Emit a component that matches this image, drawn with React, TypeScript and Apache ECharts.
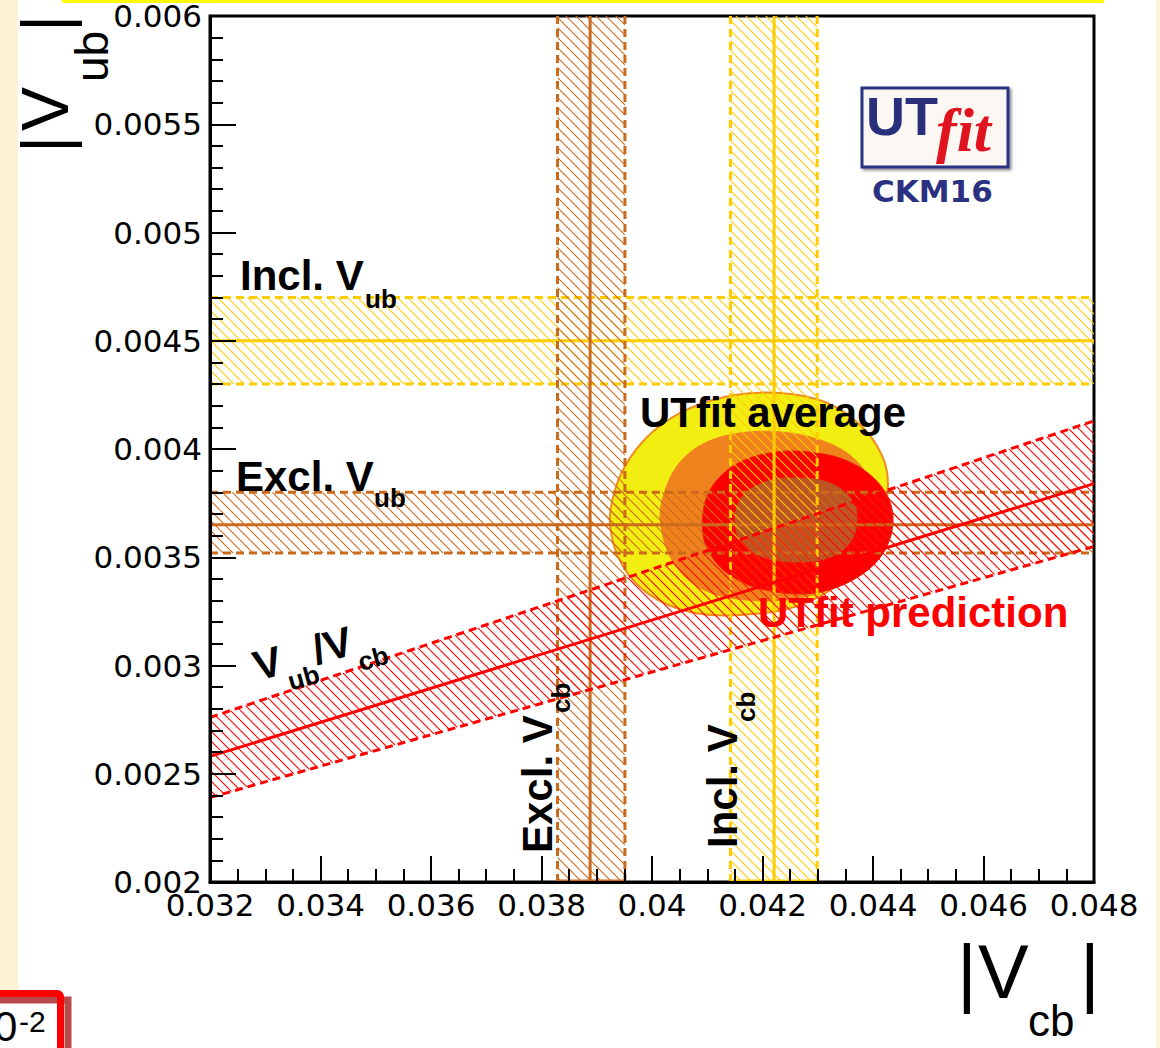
import React, { useEffect, useRef } from 'react';
import * as echarts from 'echarts';

// ---- axes ----
const X_MIN = 0.032, X_MAX = 0.048, X_STEP = 0.002;
const Y_MIN = 0.002, Y_MAX = 0.006, Y_STEP = 0.0005;

// ---- horizontal bands: |Vub| (Incl., Excl.) ----
const hBandCenter = [0.0045, 0.00365];
const hBandLow = [0.0043, 0.00352];
const hBandHigh = [0.0047, 0.0038];

// ---- vertical bands: |Vcb| (Excl., Incl.) ----
const vBandCenter = [0.03888, 0.04221];
const vBandLow = [0.03829, 0.04142];
const vBandHigh = [0.03951, 0.04299];

// ---- Vub/Vcb ratio band (end points at x = 0.032 and 0.048) ----
const ratioX = [0.032, 0.048];
const ratioCenter = [0.00258, 0.00384];
const ratioLow = [0.00239, 0.00355];
const ratioHigh = [0.00276, 0.00413];

// ---- contours (|Vcb|, |Vub|) ----
const avg95 = [
  [0.03924, 0.003649], [0.03933, 0.003811], [0.0396, 0.003958], [0.04005, 0.004088],
  [0.04069, 0.004189], [0.0415, 0.004249], [0.04232, 0.004259], [0.04313, 0.004217],
  [0.04377, 0.004111], [0.04416, 0.003972], [0.04427, 0.003834], [0.04413, 0.003626],
  [0.04358, 0.003418], [0.04268, 0.003279], [0.04159, 0.003233], [0.04069, 0.003247],
  [0.03996, 0.003326], [0.03946, 0.003464],
];
const avg68 = [
  [0.04015, 0.003672], [0.04024, 0.003811], [0.04051, 0.00394], [0.04096, 0.004028],
  [0.04159, 0.004074], [0.04232, 0.004079], [0.04304, 0.004042], [0.04358, 0.003972],
  [0.04395, 0.003857], [0.04409, 0.003718], [0.04395, 0.003534], [0.04349, 0.003395],
  [0.04268, 0.003312], [0.04168, 0.003303], [0.04087, 0.003358], [0.04036, 0.003487],
];
const pred95 = [
  [0.04091, 0.003663], [0.04105, 0.003811], [0.0415, 0.003926], [0.04214, 0.003982],
  [0.04286, 0.003986], [0.04358, 0.00394], [0.04413, 0.003834], [0.04436, 0.003695],
  [0.04422, 0.003534], [0.04373, 0.003409], [0.04295, 0.003335], [0.04205, 0.003349],
  [0.04141, 0.003418], [0.04101, 0.003534],
];
const pred68 = [
  [0.0415, 0.003672], [0.04163, 0.003778], [0.04205, 0.003848], [0.04261, 0.003866],
  [0.04322, 0.003843], [0.04362, 0.003764], [0.04371, 0.003672], [0.04358, 0.003566],
  [0.04319, 0.003497], [0.04261, 0.003478], [0.04201, 0.003501], [0.04163, 0.003566],
];
const contourList = [avg95, avg68, pred95, pred68];
const contourFill = ['#f2ee12', '#f0821e', '#ff0000', '#bc5424'];
const contourStroke = ['#f08c1e', '#f0821e', '#e8200a', '#bc5424'];

const INCL = '#ffcc00';
const EXCL = '#cc6a1c';
const RED = '#ff0000';
const hBandColor = [INCL, EXCL];
const vBandColor = [EXCL, INCL];

function makeHatch(color: string) {
  const s = 10;
  const c = document.createElement('canvas');
  c.width = s; c.height = s;
  const ctx = c.getContext('2d')!;
  ctx.strokeStyle = color;
  ctx.lineWidth = 1.1;
  ctx.beginPath();
  for (const o of [-s, 0, s]) { ctx.moveTo(o, 0); ctx.lineTo(o + s, s); }
  ctx.stroke();
  return { image: c, repeat: 'repeat' };
}

const LBL = '"Liberation Sans", Arial, sans-serif';

function txt(text: string, x: number, y: number, font: string, fill = '#000', extra: any = {}) {
  return {
    type: 'text', x, y, z: 100, silent: true,
    style: { text, font, fill, align: 'left', verticalAlign: 'middle', textAlign: 'left', textVerticalAlign: 'middle' },
    ...extra,
  };
}

export default function App() {
  const ref = useRef<HTMLDivElement>(null);
  useEffect(() => {
    if (!ref.current) return;
    const chart = echarts.init(ref.current, null, { renderer: 'svg' });
    const hatch: Record<string, any> = {
      [INCL]: makeHatch(INCL), [EXCL]: makeHatch(EXCL), [RED]: makeHatch(RED),
    };
    const dashed = (color: string) => ({ stroke: color, lineWidth: 3, lineDash: [8, 5], fill: null });
    const solid = (color: string) => ({ stroke: color, lineWidth: 3, fill: null });

    const B = 'bold 42px ' + LBL;
    const S = 'bold 26px ' + LBL;

    const option: any = {
      animation: false,
      backgroundColor: '#ffffff',
      grid: {
        left: 210, top: 16, width: 884, height: 866, show: true,
        borderColor: '#000', borderWidth: 3, backgroundColor: 'transparent',
        outerBoundsMode: 'none',
      },
      xAxis: {
        type: 'value', min: X_MIN, max: X_MAX, interval: X_STEP, z: 10,
        axisLine: { show: true, lineStyle: { color: '#000', width: 3 } },
        axisTick: { show: true, inside: true, length: 26, lineStyle: { color: '#000', width: 2 } },
        minorTick: { show: true, splitNumber: 4, length: 13, lineStyle: { color: '#000', width: 2 } },
        splitLine: { show: false }, minorSplitLine: { show: false },
        axisLabel: {
          margin: 7, color: '#000', fontSize: 31, fontFamily: '"DejaVu Sans"',
          formatter: (v: number) => String(parseFloat(v.toFixed(5))),
        },
      },
      yAxis: {
        type: 'value', min: Y_MIN, max: Y_MAX, interval: Y_STEP, z: 10,
        axisLine: { show: true, lineStyle: { color: '#000', width: 3 } },
        axisTick: { show: true, inside: true, length: 26, lineStyle: { color: '#000', width: 2 } },
        minorTick: { show: true, splitNumber: 5, length: 13, lineStyle: { color: '#000', width: 2 } },
        splitLine: { show: false }, minorSplitLine: { show: false },
        axisLabel: {
          margin: 8, color: '#000', fontSize: 31, fontFamily: '"DejaVu Sans"',
          formatter: (v: number) => String(parseFloat(v.toFixed(6))),
        },
      },
      series: [
        {
          type: 'custom', name: 'contours', silent: true, z: 2,
          data: contourList.map((c, i) => [c[0][0], c[0][1], i]),
          renderItem: (_p: any, api: any) => {
            const i = api.value(2);
            const pts = contourList[i].map((p) => api.coord(p));
            return {
              type: 'polygon',
              shape: { points: pts, smooth: 0.35 },
              style: { fill: contourFill[i], stroke: contourStroke[i], lineWidth: i === 0 ? 2 : 1 },
            };
          },
        },
        {
          type: 'custom', name: 'Vub bands', silent: true, z: 3,
          data: hBandCenter.map((c, i) => [X_MIN, c, i]),
          renderItem: (_p: any, api: any) => {
            const i = api.value(2);
            const col = hBandColor[i];
            const tl = api.coord([X_MIN, hBandHigh[i]]);
            const br = api.coord([X_MAX, hBandLow[i]]);
            const c = api.coord([X_MIN, hBandCenter[i]]);
            return {
              type: 'group',
              children: [
                { type: 'rect', shape: { x: tl[0], y: tl[1], width: br[0] - tl[0], height: br[1] - tl[1] }, style: { fill: hatch[col] } },
                { type: 'line', shape: { x1: tl[0], y1: tl[1], x2: br[0], y2: tl[1] }, style: dashed(col) },
                { type: 'line', shape: { x1: tl[0], y1: br[1], x2: br[0], y2: br[1] }, style: dashed(col) },
                { type: 'line', shape: { x1: tl[0], y1: c[1], x2: br[0], y2: c[1] }, style: solid(col) },
              ],
            };
          },
        },
        {
          type: 'custom', name: 'Vcb bands', silent: true, z: 4,
          data: vBandCenter.map((c, i) => [c, Y_MIN, i]),
          renderItem: (_p: any, api: any) => {
            const i = api.value(2);
            const col = vBandColor[i];
            const tl = api.coord([vBandLow[i], Y_MAX]);
            const br = api.coord([vBandHigh[i], Y_MIN]);
            const c = api.coord([vBandCenter[i], Y_MIN]);
            return {
              type: 'group',
              children: [
                { type: 'rect', shape: { x: tl[0], y: tl[1], width: br[0] - tl[0], height: br[1] - tl[1] }, style: { fill: hatch[col] } },
                { type: 'line', shape: { x1: tl[0], y1: tl[1], x2: tl[0], y2: br[1] }, style: dashed(col) },
                { type: 'line', shape: { x1: br[0], y1: tl[1], x2: br[0], y2: br[1] }, style: dashed(col) },
                { type: 'line', shape: { x1: tl[0], y1: br[1] - 1, x2: br[0], y2: br[1] - 1 }, style: solid(col) },
                { type: 'line', shape: { x1: c[0], y1: tl[1], x2: c[0], y2: br[1] }, style: solid(col) },
              ],
            };
          },
        },
        {
          type: 'custom', name: 'Vub/Vcb', silent: true, z: 5,
          data: [[ratioX[0], ratioCenter[0]]],
          renderItem: (_p: any, api: any) => {
            const lo0 = api.coord([ratioX[0], ratioLow[0]]);
            const lo1 = api.coord([ratioX[1], ratioLow[1]]);
            const hi0 = api.coord([ratioX[0], ratioHigh[0]]);
            const hi1 = api.coord([ratioX[1], ratioHigh[1]]);
            const c0 = api.coord([ratioX[0], ratioCenter[0]]);
            const c1 = api.coord([ratioX[1], ratioCenter[1]]);
            return {
              type: 'group',
              children: [
                { type: 'polygon', shape: { points: [lo0, lo1, hi1, hi0] }, style: { fill: hatch[RED] } },
                { type: 'line', shape: { x1: hi0[0], y1: hi0[1], x2: hi1[0], y2: hi1[1] }, style: dashed(RED) },
                { type: 'line', shape: { x1: lo0[0], y1: lo0[1], x2: lo1[0], y2: lo1[1] }, style: dashed(RED) },
                { type: 'line', shape: { x1: c0[0], y1: c0[1], x2: c1[0], y2: c1[1] }, style: solid(RED) },
              ],
            };
          },
        },
      ],
      graphic: [
        // page decorations
        { type: 'rect', z: -10, silent: true, shape: { x: 0, y: 0, width: 18, height: 1048 }, style: { fill: '#fdf3d4' } },
        { type: 'rect', z: -10, silent: true, shape: { x: 1156, y: 0, width: 4, height: 1048 }, style: { fill: '#fbf4df' } },
        { type: 'rect', z: -10, silent: true, shape: { x: 62, y: 0, width: 1042, height: 3 }, style: { fill: '#ffff00' } },

        // annotations
        txt('Incl. V', 240, 275.5, B),
        txt('ub', 365, 299, S),
        txt('Excl. V', 236, 476, B),
        txt('ub', 374, 498, S),
        txt('UTfit average', 640, 412.5, B),
        txt('UTfit prediction', 758, 612, B, RED),
        {
          type: 'group', x: 258, y: 681, rotation: 0.27, z: 100, silent: true,
          children: [
            txt('V', 0, -14.6, B), txt('ub', 29, 9, S), txt('/', 61, -14.6, B),
            txt('V', 73, -14.6, B), txt('cb', 102, 9, S),
          ],
        },
        {
          type: 'group', x: 552, y: 853, rotation: Math.PI / 2, z: 100, silent: true,
          children: [txt('Excl. V', 0, -14.6, B), txt('cb', 140, 9, S)],
        },
        {
          type: 'group', x: 737, y: 848, rotation: Math.PI / 2, z: 100, silent: true,
          children: [txt('Incl. V', 0, -14.6, B), txt('cb', 126, 9, S)],
        },

        // axis titles
        {
          type: 'group', x: 68, y: 153, rotation: Math.PI / 2, z: 100, silent: true,
          children: [
            txt('|', 0, -23, '66px ' + LBL), txt('V', 22, -23, '66px ' + LBL),
            txt('ub', 71, 24, '46px ' + LBL), txt('|', 121, -23, '66px ' + LBL),
          ],
        },
        txt('|', 957, 971, '76px ' + LBL),
        txt('V', 978, 971, '76px ' + LBL),
        txt('cb', 1028, 1020, '44px ' + LBL),
        txt('|', 1080, 971, '76px ' + LBL),

        // UTfit logo
        {
          type: 'rect', z: 90, silent: true, shape: { x: 862, y: 88, width: 146, height: 79 },
          style: { fill: '#fbf8f4', stroke: '#2a3282', lineWidth: 3, shadowBlur: 3, shadowColor: 'rgba(0,0,0,0.45)', shadowOffsetX: 2, shadowOffsetY: 2 },
        },
        txt('UT', 866, 116, 'bold 54px ' + LBL, '#2a2f7c'),
        txt('fit', 936, 130, 'italic bold 62px "Liberation Serif", serif', '#e0141e'),
        txt('CKM16', 872, 191, 'bold 31px "DejaVu Sans"', '#2b3180'),

        // cut-off box bottom-left
        { type: 'rect', z: 90, silent: true, shape: { x: -10, y: 993, width: 72, height: 70 }, style: { fill: '#ffffff' } },
        { type: 'rect', z: 91, silent: true, shape: { x: -10, y: 1000, width: 78, height: 70 }, style: { fill: null, stroke: '#b94a4a', lineWidth: 7 } },
        { type: 'rect', z: 92, silent: true, shape: { x: -10, y: 993.5, width: 70.5, height: 70, r: 3 }, style: { fill: null, stroke: '#ff0000', lineWidth: 7 } },
        txt('0', -6, 1026, '42px ' + LBL),
        txt('-2', 19, 1021, '30px ' + LBL),
      ],
    };
    chart.setOption(option);
    return () => chart.dispose();
  }, []);
  return <div ref={ref} style={{ position: 'absolute', left: 0, top: 0, width: 1160, height: 1048 }} />;
}
